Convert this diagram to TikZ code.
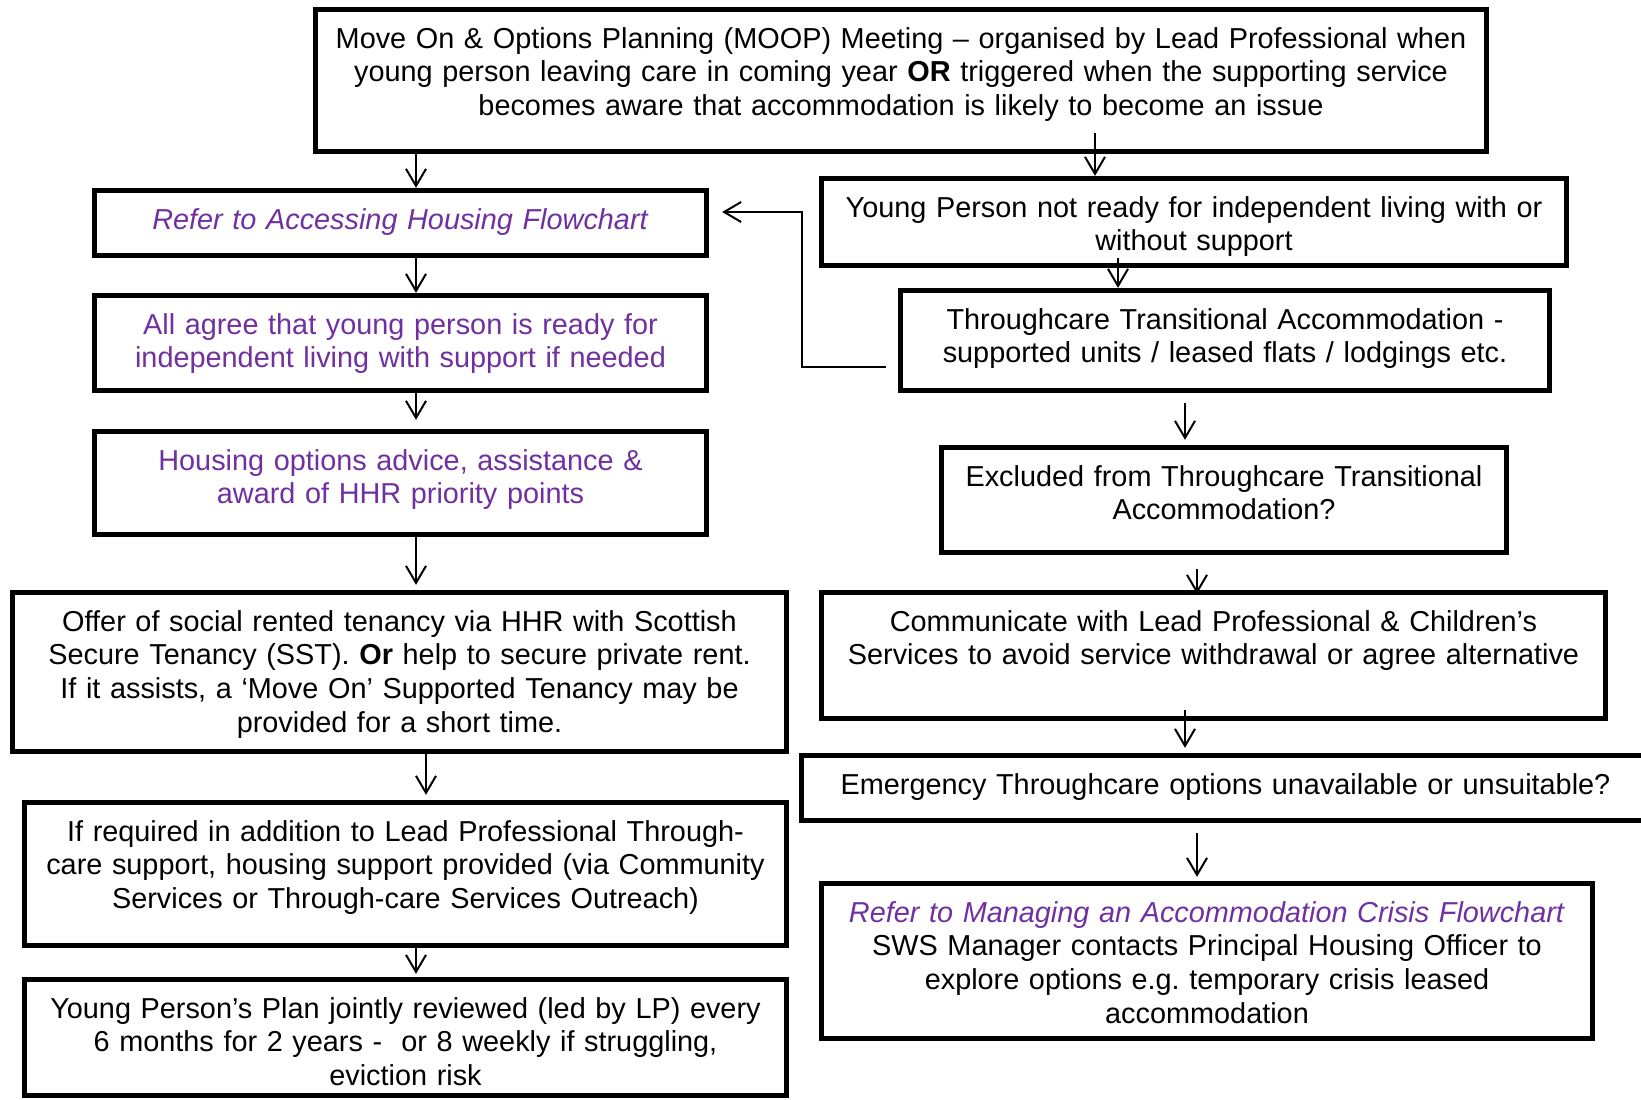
\documentclass[tikz,border=0pt]{standalone}
\usepackage{fontspec}
\setmainfont{Liberation Sans}
\usetikzlibrary{arrows.meta}
\definecolor{referpurple}{HTML}{7030A0}
\frenchspacing
\tikzstyle{line} = [draw, line width=2pt, -{Straight Barb[length=17pt,width=20pt]}]
\tikzstyle{block} = [rectangle, draw, line width=4.8pt, align=center,
  inner xsep=10pt, inner ysep=0pt, text height=39pt,
  font=\fontsize{28.85}{33.7}\selectfont]
\tikzstyle{purple} = [text=referpurple]

\begin{document}
\begin{tikzpicture}[x=1pt, y=-1pt]
  \useasboundingbox (0,0) rectangle (1641,1100);

  % left column
  \node [block, text width=1151.5pt, text depth=103.5pt] (moop) at (901,80.5)
    {Move On \& Options Planning (MOOP) Meeting – organised by Lead Professional when\\
     young person leaving care in coming year \textbf{OR} triggered when the supporting service\\
     becomes aware that accommodation is likely to become an issue};
  \node [block, purple, text width=592.5pt, text depth=26.5pt] (refer) at (400.5,223)
    {\textit{Refer to Accessing Housing Flowchart}};
  \node [block, purple, text width=592.5pt, text depth=56.5pt] (agree) at (400.5,343)
    {All agree that young person is ready for\\ independent living with support if needed};
  \node [block, purple, text width=592.5pt, text depth=64.5pt] (housing) at (400.5,483)
    {Housing options advice, assistance \&\\ award of HHR priority points};
  \node [block, text width=754.5pt, text depth=120.5pt] (offer) at (399.5,672)
    {Offer of social rented tenancy via HHR with Scottish\\
     Secure Tenancy (SST). \textbf{Or} help to secure private rent.\\
     If it assists, a ‘Move On’ Supported Tenancy may be\\
     provided for a short time.};
  \node [block, text width=742.5pt, text depth=104.5pt] (support) at (405.5,874)
    {If required in addition to Lead Professional Through-\\
     care support, housing support provided (via Community\\
     Services or Through-care Services Outreach)};
  \node [block, text width=742.5pt, text depth=77.5pt] (plan) at (405.5,1037.5)
    {Young Person’s Plan jointly reviewed (led by LP) every\\
     6 months for 2 years -\ \ or 8 weekly if struggling,\\
     eviction risk};

  % right column
  \node [block, text width=725.5pt, text depth=48.5pt] (notready) at (1194,222)
    {Young Person not ready for independent living with or\\ without support};
  \node [block, text width=629.5pt, text depth=61.5pt] (transit) at (1225,340.5)
    {Throughcare Transitional Accommodation -\\ supported units / leased flats / lodgings etc.};
  \node [block, text width=545.5pt, text depth=66.5pt] (excluded) at (1224,500)
    {Excluded from Throughcare Transitional\\ Accommodation?};
  \node [block, text width=764.5pt, text depth=87.5pt] (communicate) at (1213.5,655.5)
    {Communicate with Lead Professional \& Children’s\\
     Services to avoid service withdrawal or agree alternative};
  \node [block, text width=828.5pt, text depth=26.5pt] (emergency) at (1225.5,788)
    {Emergency Throughcare options unavailable or unsuitable?};
  \node [block, text width=751.5pt, text depth=116.5pt] (crisis) at (1207,961)
    {\textcolor{referpurple}{\textit{Refer to Managing an Accommodation Crisis Flowchart}}\\
     SWS Manager contacts Principal Housing Officer to\\
     explore options e.g. temporary crisis leased\\
     accommodation};

  % arrow columns
  \coordinate (leftx) at (416,0);
  \coordinate (leftx2) at (426,0);
  \coordinate (midx) at (1095,0);
  \coordinate (midx2) at (1118,0);
  \coordinate (rightx) at (1185,0);
  \coordinate (rightx2) at (1197,0);

  \path [line] (moop.south -| leftx) -- (refer.north -| leftx);
  \path [line] (refer.south -| leftx) -- (agree.north -| leftx);
  \path [line, shorten <=-5pt, shorten >=9pt] (agree.south -| leftx) -- (housing.north -| leftx);
  \path [line, shorten >=5pt] (housing.south -| leftx) -- (offer.north -| leftx);
  \path [line, shorten >=5pt] (offer.south -| leftx2) -- (support.north -| leftx2);
  \path [line, shorten >=3pt] (support.south -| leftx) -- (plan.north -| leftx);

  \path [line, shorten <=-21pt] (moop.south -| midx) -- (notready.north -| midx);
  \path [line, shorten <=-10pt] (notready.south -| midx2) -- (transit.north -| midx2);
  \path [line, shorten <=10pt, shorten >=5pt] (transit.south -| rightx) -- (excluded.north -| rightx);
  \path [line, shorten <=14pt, shorten >=-4pt] (excluded.south -| rightx2) -- (communicate.north -| rightx2);
  \path [line, shorten <=-11pt, shorten >=5pt] (communicate.south -| rightx) -- (emergency.north -| rightx);
  \path [line, shorten <=10pt, shorten >=4pt] (emergency.south -| rightx2) -- (crisis.north -| rightx2);

  \path [line] ([xshift=-12pt,yshift=-26.5pt]transit.west) -- ++(-84,0)
    |- ([xshift=13pt,yshift=11pt]refer.east);

\end{tikzpicture}
\end{document}
